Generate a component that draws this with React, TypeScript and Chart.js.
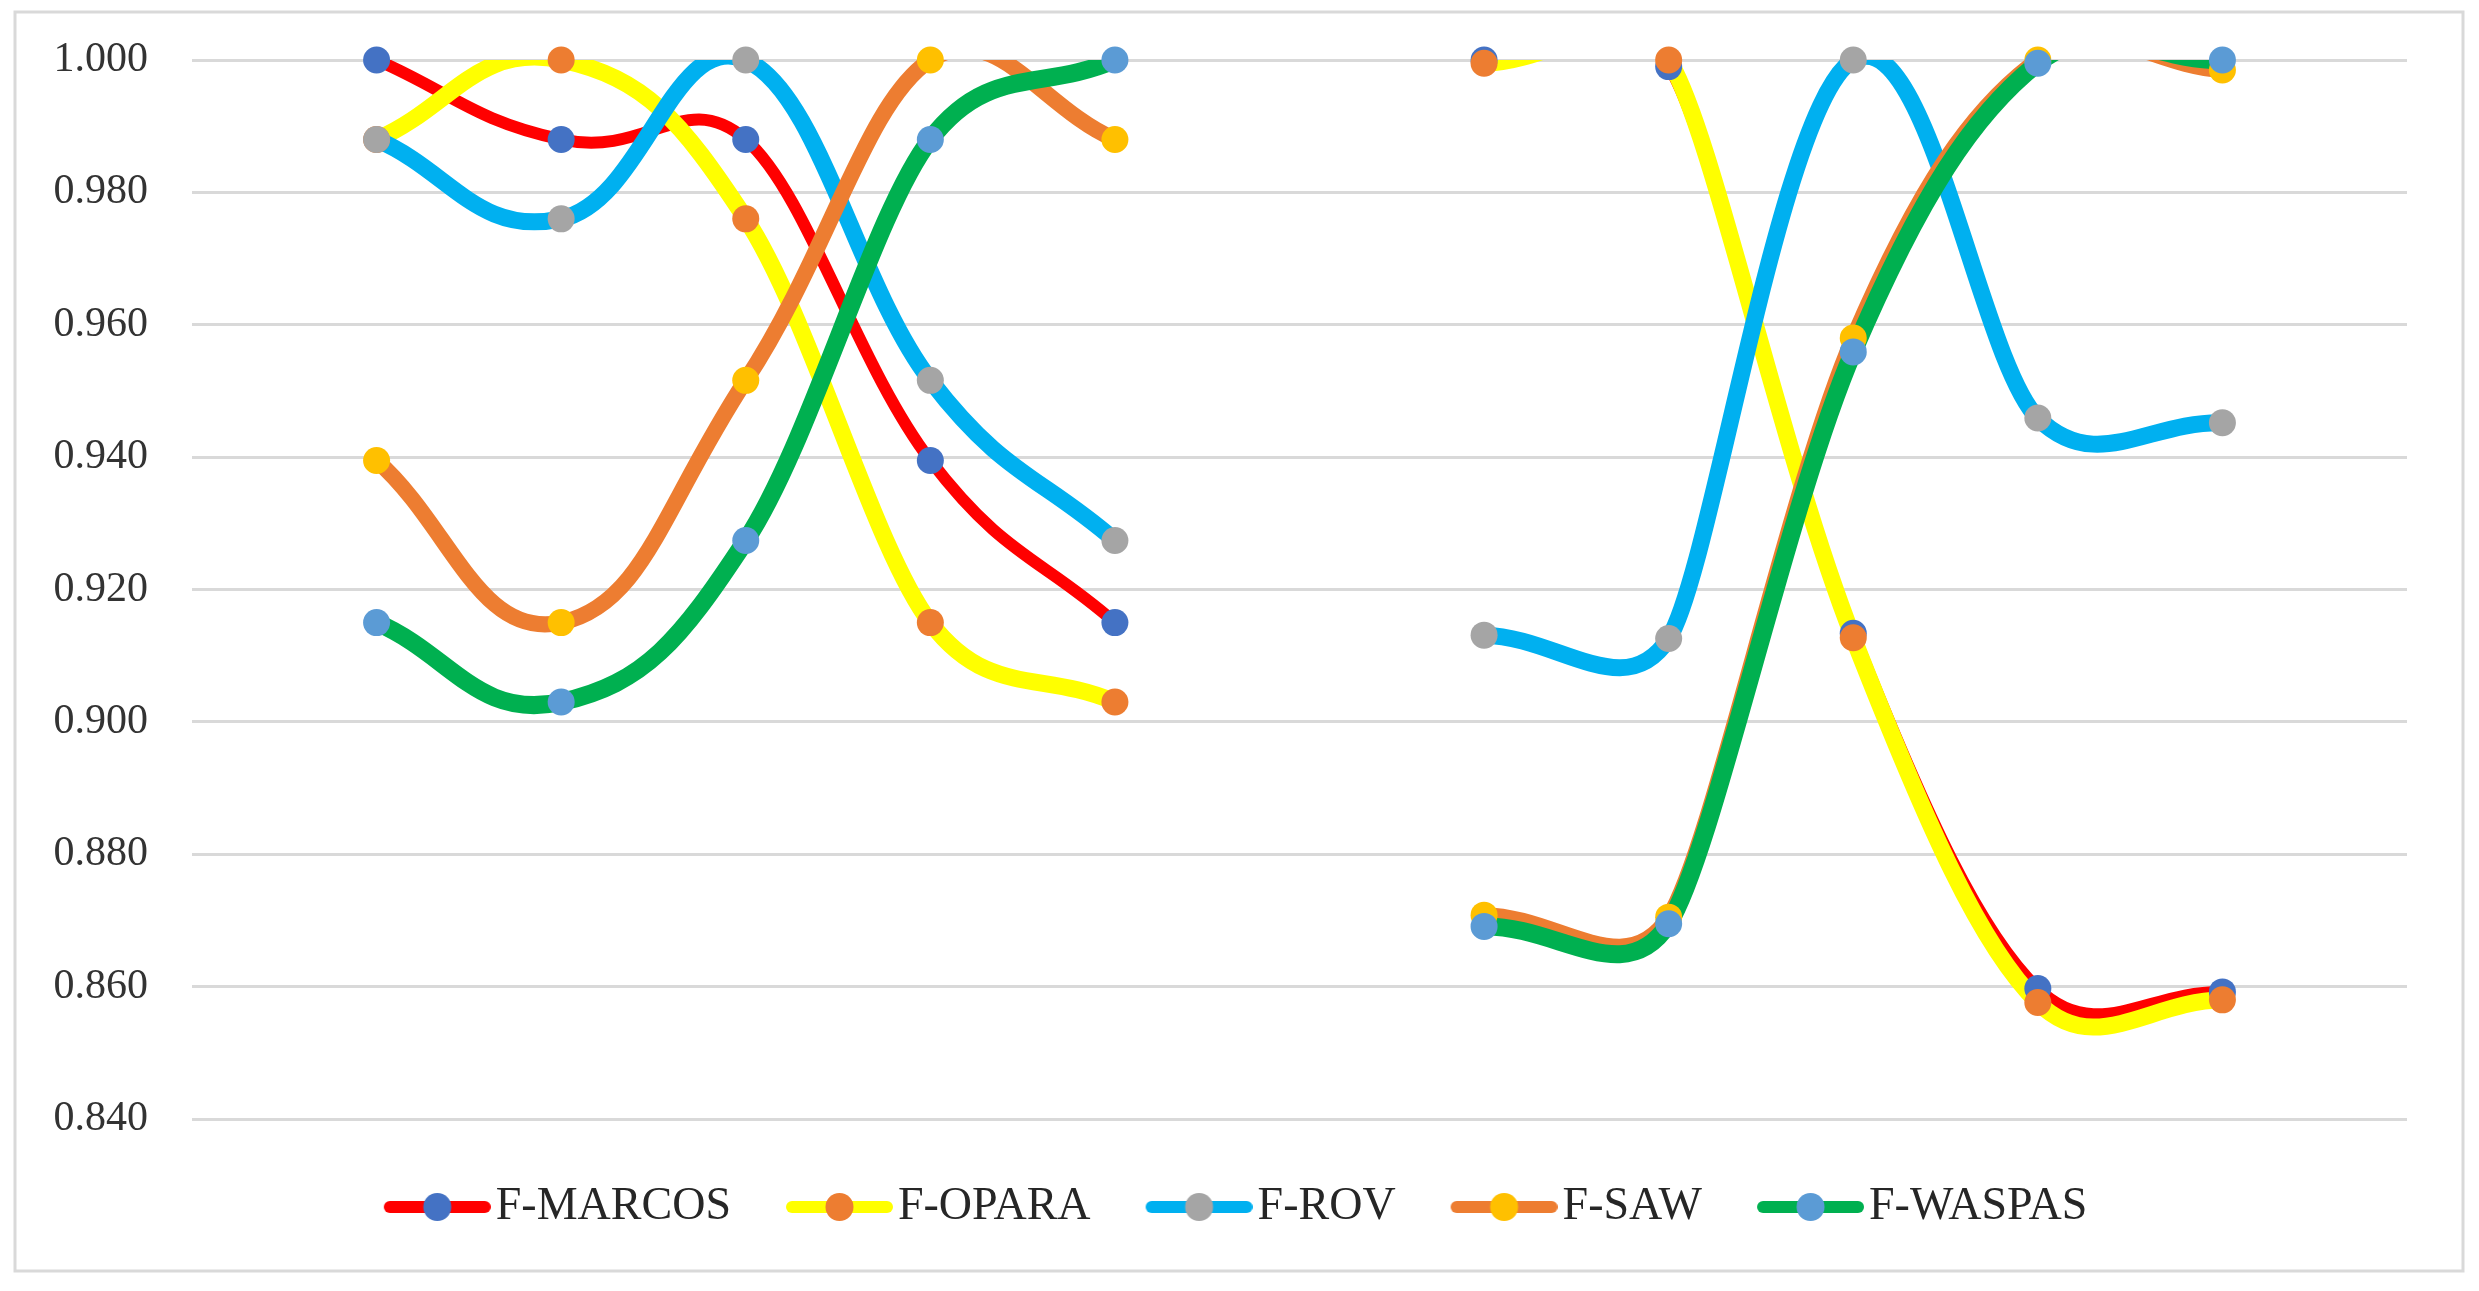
import React, { useEffect, useRef } from 'react';
import { Chart, registerables } from 'chart.js';

Chart.register(...registerables);

// 13 category slots: the two groups of five points sit at 1-5 and 7-11 (0, 6, 12 are empty)
const categories: string[] = ['', '', '', '', '', '', '', '', '', '', '', '', ''];

const seriesNames: string[] = ['F-MARCOS', 'F-OPARA', 'F-ROV', 'F-SAW', 'F-WASPAS'];

const fMarcos: (number | null)[] = [null, 1.0, 0.988, 0.988, 0.9395, 0.915, null, 1.0, 0.999, 0.9134, 0.8597, 0.8592, null];
const fOpara: (number | null)[] = [null, 0.988, 1.0, 0.976, 0.915, 0.903, null, 0.9995, 1.0, 0.9127, 0.8576, 0.858, null];
const fRov: (number | null)[] = [null, 0.988, 0.976, 1.0, 0.9516, 0.9274, null, 0.9131, 0.9126, 1.0, 0.9459, 0.9452, null];
const fSaw: (number | null)[] = [null, 0.9395, 0.915, 0.9516, 1.0, 0.988, null, 0.8708, 0.8705, 0.958, 1.0, 0.9985, null];
const fWaspas: (number | null)[] = [null, 0.915, 0.903, 0.9274, 0.988, 1.0, null, 0.8691, 0.8695, 0.9559, 0.9995, 1.0, null];

const yTicks: number[] = [0.84, 0.86, 0.88, 0.9, 0.92, 0.94, 0.96, 0.98, 1.0];

const lineColors: string[] = ['#FF0000', '#FFFF00', '#00B0F0', '#ED7D31', '#00B050'];
const markerColors: string[] = ['#4472C4', '#ED7D31', '#A5A5A5', '#FFC000', '#5B9BD5'];
const lineWidths: number[] = [12, 17, 17, 16, 18];

const SERIF = "'Liberation Serif', 'Times New Roman', serif";
const TENSION = 0.5;

function makeLegendIcon(lineColor: string, markerColor: string): HTMLCanvasElement {
  const c = document.createElement('canvas');
  c.width = 115;
  c.height = 30;
  const ctx = c.getContext('2d')!;
  ctx.lineCap = 'round';
  ctx.lineWidth = 12;
  ctx.strokeStyle = lineColor;
  ctx.beginPath();
  ctx.moveTo(14, 15);
  ctx.lineTo(109, 15);
  ctx.stroke();
  ctx.fillStyle = markerColor;
  ctx.beginPath();
  ctx.arc(61.5, 15, 14, 0, Math.PI * 2);
  ctx.fill();
  return c;
}

const framePlugin = {
  id: 'frame',
  beforeDraw(chart: any) {
    const ctx = chart.ctx;
    ctx.save();
    ctx.fillStyle = '#ffffff';
    ctx.fillRect(0, 0, chart.width, chart.height);
    ctx.strokeStyle = '#d9d9d9';
    ctx.lineWidth = 3;
    ctx.strokeRect(15, 12, 2448, 1259);
    ctx.restore();
  },
};

// Spreadsheet-style smoothing: Catmull-Rom tangent with arm length weighted by the shorter neighbour segment
const smoothPlugin = {
  id: 'sheetSmooth',
  beforeDatasetDraw(chart: any, args: any) {
    const meta = args.meta;
    const ds = chart.data.datasets[meta.index];
    if (!meta.dataset || ds.showLine === false) return;
    const pts = meta.data;
    for (let i = 0; i < pts.length; i++) {
      const p = pts[i];
      if (p.skip) continue;
      const prev = i > 0 && !pts[i - 1].skip ? pts[i - 1] : p;
      const next = i < pts.length - 1 && !pts[i + 1].skip ? pts[i + 1] : p;
      const d01 = Math.hypot(p.x - prev.x, p.y - prev.y);
      const d12 = Math.hypot(next.x - p.x, next.y - p.y);
      const sum = d01 + d12;
      let f = 0;
      if (sum > 0) {
        f = d01 === 0 || d12 === 0 ? TENSION * 0.8 : (TENSION * Math.min(d01, d12)) / sum;
      }
      const tx = next.x - prev.x;
      const ty = next.y - prev.y;
      p.cp1x = p.x - f * tx;
      p.cp1y = p.y - f * ty;
      p.cp2x = p.x + f * tx;
      p.cp2y = p.y + f * ty;
    }
    meta.dataset._pointsUpdated = true;
    meta.dataset._path = undefined;
  },
};

const legendShiftPlugin = {
  id: 'legendShift',
  afterLayout(chart: any) {
    const lg = chart.legend;
    if (lg) {
      lg.left += 12;
      lg.right += 12;
    }
  },
};

export default function App() {
  const ref = useRef<HTMLCanvasElement>(null);

  useEffect(() => {
    const canvas = ref.current;
    if (!canvas) return;
    const seriesData = [fMarcos, fOpara, fRov, fSaw, fWaspas];
    const icons = seriesNames.map((_, i) => makeLegendIcon(lineColors[i], markerColors[i]));

    const lineDatasets = seriesNames.map((name, i) => ({
      label: name,
      data: seriesData[i],
      borderColor: lineColors[i],
      backgroundColor: lineColors[i],
      borderWidth: lineWidths[i],
      borderCapStyle: 'round',
      borderJoinStyle: 'round',
      pointRadius: 0,
      pointHoverRadius: 0,
      tension: TENSION,
      spanGaps: false,
      fill: false,
      order: 10 - i,
      clip: { left: false, right: false, top: 0, bottom: false },
    }));

    const markerDatasets = seriesNames.map((name, i) => ({
      label: name + ' markers',
      data: seriesData[i],
      showLine: false,
      pointRadius: 13.5,
      pointHoverRadius: 13.5,
      pointBackgroundColor: markerColors[i],
      pointBorderColor: markerColors[i],
      pointBorderWidth: 0,
      order: 5 - i,
      clip: false,
    }));

    const chart = new Chart(canvas, {
      type: 'line',
      data: {
        labels: categories,
        datasets: [...lineDatasets, ...markerDatasets] as any,
      },
      plugins: [framePlugin, smoothPlugin, legendShiftPlugin],
      options: {
        responsive: false,
        animation: false,
        events: [],
        devicePixelRatio: 1,
        layout: { padding: { left: 50, right: 72, top: 60, bottom: 51 } },
        elements: { line: { capBezierPoints: false } },
        scales: {
          x: { display: false },
          y: {
            min: 0.84,
            max: 1.0,
            afterBuildTicks: (scale: any) => {
              scale.ticks = yTicks.map((v) => ({ value: v }));
            },
            afterFit: (scale: any) => {
              scale.width = 142;
              scale.paddingTop = 0;
              scale.paddingBottom = 0;
            },
            border: { display: false },
            grid: { color: '#d9d9d9', lineWidth: 3, drawTicks: false },
            ticks: {
              padding: 44,
              color: '#333333',
              font: { family: SERIF, size: 42 },
              callback: (v: any) => Number(v).toFixed(3),
            },
          },
        },
        plugins: {
          tooltip: { enabled: false },
          legend: {
            position: 'bottom',
            align: 'center',
            labels: {
              usePointStyle: true,
              pointStyleWidth: 79,
              padding: 65,
              color: '#262626',
              font: { family: SERIF, size: 46 },
              generateLabels: () =>
                seriesNames.map((name, i) => ({
                  text: name,
                  fillStyle: lineColors[i],
                  strokeStyle: lineColors[i],
                  lineWidth: 0,
                  pointStyle: icons[i],
                  hidden: false,
                  datasetIndex: i,
                  fontColor: '#262626',
                })),
            },
          },
        },
      } as any,
    });
    return () => chart.destroy();
  }, []);

  return (
    <canvas
      ref={ref}
      width={2479}
      height={1291}
      style={{ position: 'fixed', left: 0, top: 0, width: 2479, height: 1291, display: 'block' }}
    />
  );
}
